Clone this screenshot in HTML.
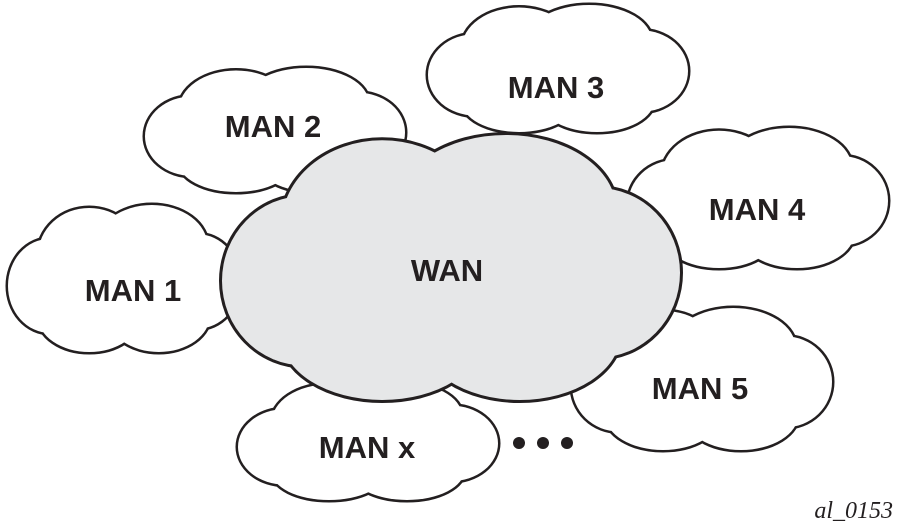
<!DOCTYPE html>
<html><head><meta charset="utf-8"><style>
html,body{margin:0;padding:0;background:#fff;width:900px;height:528px;overflow:hidden}
svg text{font-family:"Liberation Sans",Arial,sans-serif;font-weight:bold;font-size:31px;fill:#231f20;text-anchor:middle}
</style></head><body>
<svg id="s" width="900" height="528" viewBox="0 0 900 528" xmlns="http://www.w3.org/2000/svg">
<g id="clouds"></g>
<text x="556" y="98">MAN 3</text>
<text x="273" y="137">MAN 2</text>
<text x="757" y="220">MAN 4</text>
<text x="133" y="301">MAN 1</text>
<text x="447" y="281">WAN</text>
<text x="700" y="399">MAN 5</text>
<text x="367" y="458">MAN x</text>
<circle cx="519" cy="443" r="6" fill="#231f20"/>
<circle cx="543" cy="443" r="6" fill="#231f20"/>
<circle cx="567" cy="443" r="6" fill="#231f20"/>
<text x="893" y="518" style="font-family:'Liberation Serif',serif;font-weight:normal;font-style:italic;font-size:24px;text-anchor:end">al_0153</text>
</svg>
<script>
var lobes=[[0.18,0.55,0.18,0.32],[0.35,0.34,0.22,0.32],[0.62,0.28,0.24,0.28],[0.82,0.52,0.18,0.32],[0.65,0.75,0.22,0.25],[0.35,0.76,0.22,0.24],[0.5,0.52,0.35,0.3]];
var clouds=[[8,205,232,147,'#fff'],[145,68,260,124,'#fff'],[428,5,260,127,'#fff'],[628,128,260,140,'#fff'],[572,308,260,142,'#fff'],[238,382,260,118,'#fff'],[222,135,458,265,'#e6e7e8']];
var g=document.getElementById('clouds'),ns='http://www.w3.org/2000/svg';
clouds.forEach(function(c){
  var grp=document.createElementNS(ns,'g');
  [0,1].forEach(function(pass){
    lobes.forEach(function(l){
      var e=document.createElementNS(ns,'ellipse');
      e.setAttribute('cx',c[0]+l[0]*c[2]);e.setAttribute('cy',c[1]+l[1]*c[3]);
      e.setAttribute('rx',l[2]*c[2]);e.setAttribute('ry',l[3]*c[3]);
      e.setAttribute('fill',c[4]);
      if(pass==0){e.setAttribute('stroke','#231f20');e.setAttribute('stroke-width',c[4]=='#fff'?5:6);}
      grp.appendChild(e);
    });
  });
  g.appendChild(grp);
});
</script>
</body></html>
